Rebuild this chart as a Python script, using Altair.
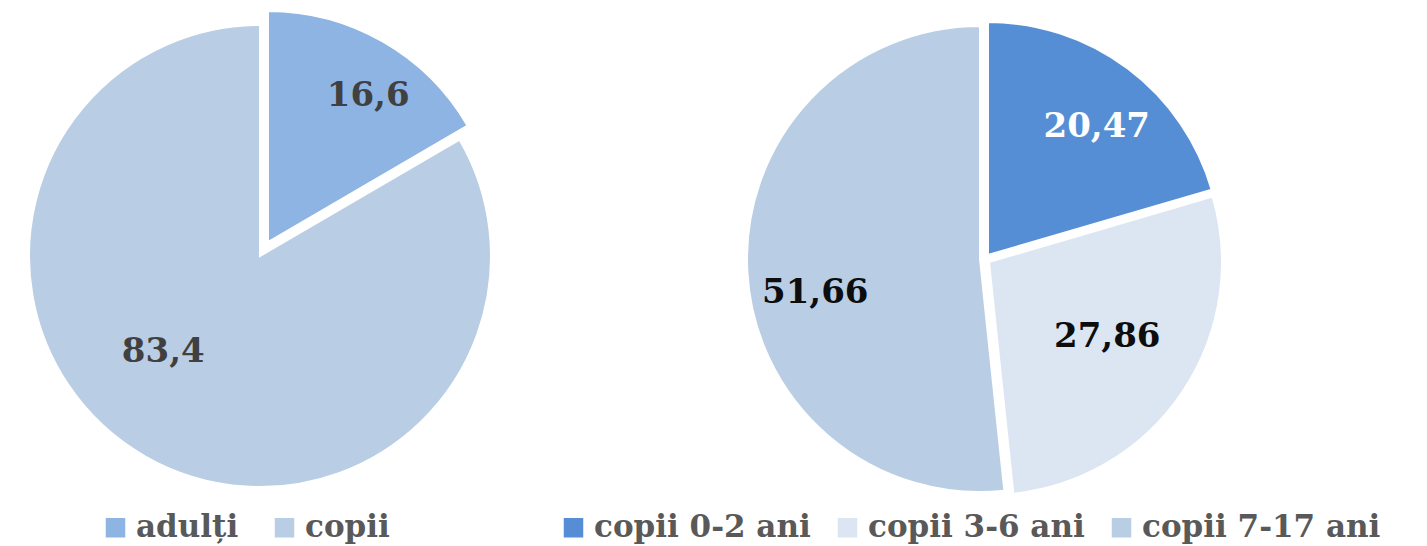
import math
import altair as alt
import pandas as pd

# ---- data ----
left_cats = ["adulți", "copii"]
left_vals = [16.6, 83.4]
left_labels = ["16,6", "83,4"]
left_colors = ["#8EB4E3", "#B9CDE5"]
left_label_colors = ["#404040", "#404040"]

right_cats = ["copii 0-2 ani", "copii 3-6 ani", "copii 7-17 ani"]
right_vals = [20.47, 27.86, 51.66]
right_labels = ["20,47", "27,86", "51,66"]
right_colors = ["#558ED5", "#DCE6F2", "#B9CDE5"]
right_label_colors = ["#FFFFFF", "#0D0D0D", "#0D0D0D"]

FONT = "DejaVu Serif"


def pie(cats, vals, labels, colors, label_colors, centers, radius,
        label_radius, label_shift, legend_x, legend_y, col_pad):
    df = pd.DataFrame({"cat": cats, "val": vals, "label": labels,
                       "order": list(range(len(cats)))})
    total = sum(vals)
    theta_scale = alt.Scale(domain=[0, total], range=[0, 2 * math.pi])
    color = alt.Color(
        "cat:N",
        scale=alt.Scale(domain=cats, range=colors),
        legend=alt.Legend(
            orient="none", legendX=legend_x, legendY=legend_y,
            direction="horizontal", title=None, symbolType="square",
            symbolSize=380, symbolStrokeWidth=0, labelFont=FONT,
            labelFontSize=31, labelFontWeight="bold", labelColor="#595959",
            labelOffset=5, columnPadding=col_pad, labelLimit=1000,
            padding=0, columns=len(cats)),
    )
    base = (alt.Chart(df)
            .transform_window(end="sum(val)", sort=[alt.SortField("order")],
                              frame=[None, 0])
            .transform_calculate(start="datum.end - datum.val",
                                 mid="datum.end - datum.val / 2"))
    layers = []
    for i, c in enumerate(cats):
        cx, cy = centers[i]
        sl = base.transform_filter(alt.datum.cat == c)
        arc = sl.mark_arc(x=cx, y=cy, radius=radius, stroke="white",
                          strokeWidth=2).encode(
            theta=alt.Theta("start:Q", scale=theta_scale),
            theta2="end:Q",
            color=color,
        )
        dx, dy = label_shift[i]
        txt = sl.mark_text(x=cx, y=cy, radius=label_radius[i], dx=dx, dy=dy,
                           font=FONT, fontSize=34, fontWeight="bold",
                           color=label_colors[i], align="center",
                           baseline="middle").encode(
            theta=alt.Theta("mid:Q", scale=theta_scale),
            text="label:N",
        )
        layers += [arc, txt]
    return alt.layer(*layers)


left = pie(left_cats, left_vals, left_labels, left_colors, left_label_colors,
           centers=[(260, 234), (252, 248)], radius=231,
           label_radius=[175, 136], label_shift=[(13, 6), (-29, -22)],
           legend_x=92, legend_y=504, col_pad=30)

right = pie(right_cats, right_vals, right_labels, right_colors,
            right_label_colors,
            centers=[(980, 247), (981, 254), (972, 251)], radius=233,
            label_radius=[168, 140, 169], label_shift=[(8, 6), (2, -3), (4, 25)],
            legend_x=550, legend_y=504, col_pad=21)

chart = (alt.layer(left, right)
         .resolve_scale(color="independent", theta="independent")
         .properties(width=1411, height=538, padding=0,
                     autosize=alt.AutoSizeParams(type="none"))
         .configure_view(stroke=None))

chart.save("out.html", embed_options={"renderer": "svg", "actions": False})
